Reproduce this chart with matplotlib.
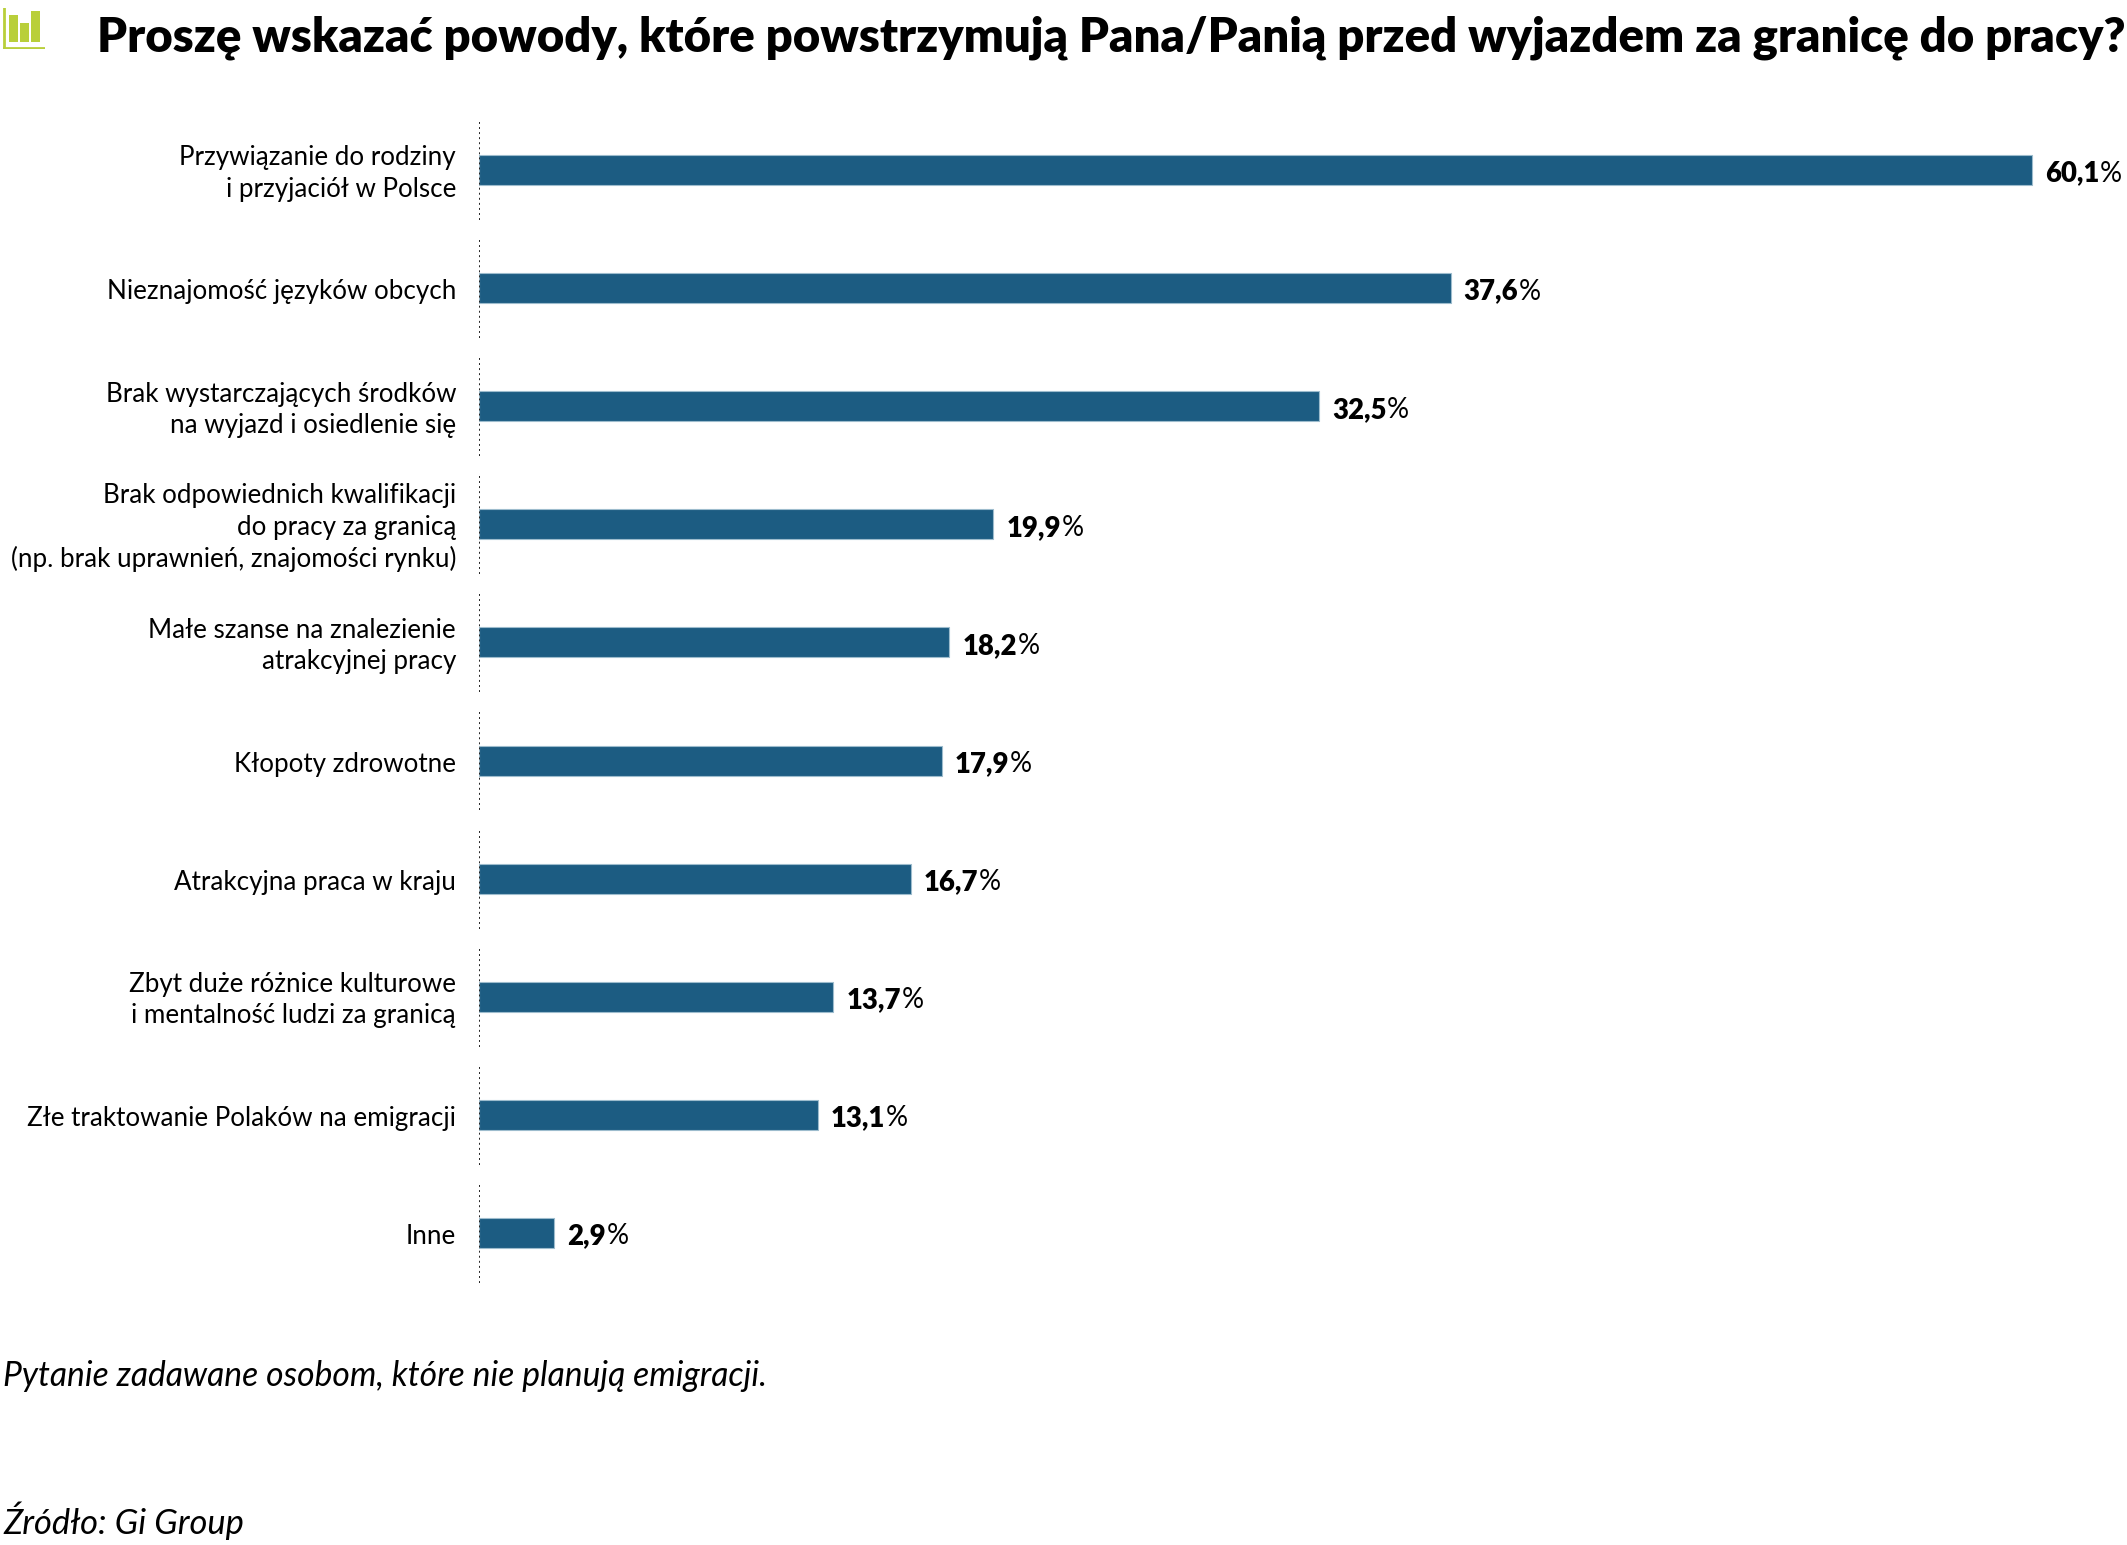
import matplotlib
matplotlib.use('Agg')
import matplotlib.pyplot as plt

plt.rcParams['font.family'] = ['Lato', 'DejaVu Sans']

W, H = 2127, 1545

title = 'Proszę wskazać powody, które powstrzymują Pana/Panią przed wyjazdem za granicę do pracy?'
note = 'Pytanie zadawane osobom, które nie planują emigracji.'
source = 'Źródło: Gi Group'

categories = [
    'Przywiązanie do rodziny\ni przyjaciół w Polsce',
    'Nieznajomość języków obcych',
    'Brak wystarczających środków\nna wyjazd i osiedlenie się',
    'Brak odpowiednich kwalifikacji\ndo pracy za granicą\n(np. brak uprawnień, znajomości rynku)',
    'Małe szanse na znalezienie\natrakcyjnej pracy',
    'Kłopoty zdrowotne',
    'Atrakcyjna praca w kraju',
    'Zbyt duże różnice kulturowe\ni mentalność ludzi za granicą',
    'Złe traktowanie Polaków na emigracji',
    'Inne',
]
values = [60.1, 37.6, 32.5, 19.9, 18.2, 17.9, 16.7, 13.7, 13.1, 2.9]

icon_heights = [27, 19, 31]

BAR_COLOR = '#1c5c82'
GREEN = '#b9cf3a'


def px_axes(fig, left, top, right, bottom):
    return fig.add_axes([left / W, 1 - bottom / H, (right - left) / W, (bottom - top) / H])


fig = plt.figure(figsize=(W / 100, H / 100), dpi=100, facecolor='white')

# main bars, 25.84 px per percentage point
ax = px_axes(fig, 479, 111, W, 1292)
ax.set_xlim(0, (W - 479) / 25.84)
ax.set_ylim(9.5, -0.5)
ax.axis('off')

ypos = list(range(len(values)))
ax.barh(ypos, values, height=0.254, color=BAR_COLOR, edgecolor='#9dbccd', linewidth=0.8, zorder=2)
ax.vlines([0] * len(ypos), [y - 0.407 for y in ypos], [y + 0.425 for y in ypos], color='#222222',
          linewidth=1.4, linestyle=(0, (1, 1.6)), zorder=3)

for y, v, cat in zip(ypos, values, categories):
    ax.annotate(cat, xy=(0, y), xytext=(-16.5, -2.5), textcoords='offset points', ha='right',
                va='center', ma='right', fontsize=18.7, linespacing=1.31, color='black')
    num = ax.annotate(f'{v:.1f}'.replace('.', ','), xy=(v, y), xytext=(9.5, -2.5),
                      textcoords='offset points', va='center', fontsize=19.8, fontweight='heavy',
                      color='black')
    ax.annotate('%', xy=(1, 0.5), xycoords=num, xytext=(0.5, 0), textcoords='offset points',
                va='center', fontsize=19.8, color='black')

fig.text(97 / W, 1 - 51 / H, title, fontsize=34.05, fontweight='heavy', color='black',
         ha='left', va='baseline')
fig.text(3 / W, 1 - 1386.5 / H, note, fontsize=24.2, style='italic', color='black', va='baseline')
fig.text(3 / W, 1 - 1533.5 / H, source, fontsize=24.8, style='italic', color='black', va='baseline')

# small bar-chart logo next to the title
icon = px_axes(fig, 3, 8, 45, 49)
icon.set_xlim(0, 42)
icon.set_ylim(-7, 34)
icon.axis('off')
icon.bar([10.5, 21.5, 32.5], icon_heights, width=8.5, color=GREEN)
icon.axhline(-5.5, color=GREEN, linewidth=2)
icon.axvline(1, color=GREEN, linewidth=2)

fig.savefig('out.png', dpi=100)
